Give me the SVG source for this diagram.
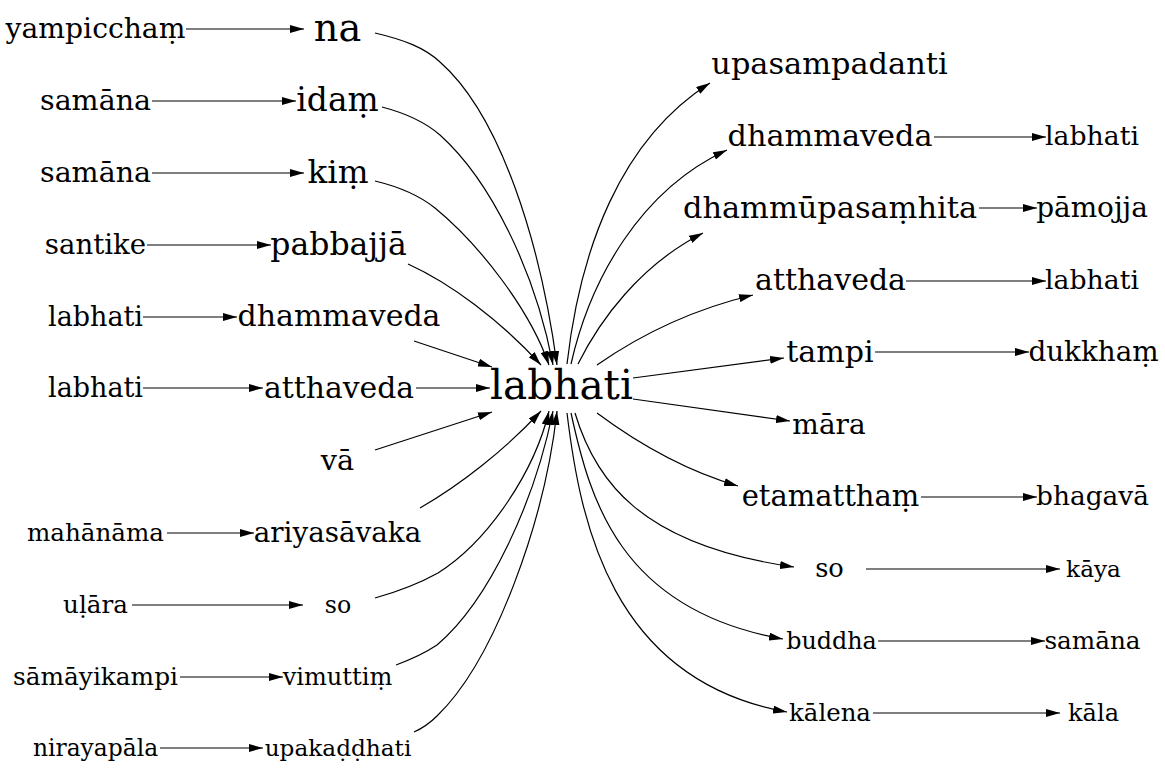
<svg xmlns="http://www.w3.org/2000/svg" width="1165" height="779" viewBox="0 0 1165 779">
<defs>
<marker id="ah" markerWidth="14" markerHeight="8" refX="14" refY="4" orient="auto" markerUnits="userSpaceOnUse"><path d="M0,0 L14,4 L0,8 z" fill="#000"/></marker>
<style>
text{font-family:"DejaVu Serif","Liberation Serif",serif;fill:#000;text-anchor:middle}
.e path{fill:none;stroke:#000;stroke-width:1.2;marker-end:url(#ah)}
</style>
</defs>
<rect width="1165" height="779" fill="#fff"/>
<g class="e" id="edges">
<path d="M186,29 L304,29"/>
<path d="M152,101 L296,101"/>
<path d="M152,173 L304,173"/>
<path d="M147,245 L271,245"/>
<path d="M143,317 L237,317"/>
<path d="M143,388 L263,388"/>
<path d="M167,533 L254,533"/>
<path d="M132,605 L303,605"/>
<path d="M180,677 L283,677"/>
<path d="M160,748 L263,748"/>
<path d="M375,33 C405,40 425,48 440,62 C500,115 540,240 557,365"/>
<path d="M382,107 C405,113 425,122 440,135 C490,180 535,270 553,365"/>
<path d="M375,181 C400,187 420,196 435,208 C480,245 530,310 549,365"/>
<path d="M408,264 C450,283 500,320 541,365"/>
<path d="M414,341 L492,367"/>
<path d="M416,388 L490,388"/>
<path d="M375,450 L492,412"/>
<path d="M420,508 C460,485 505,450 541,411"/>
<path d="M375,598 C400,591 420,583 438,573 C490,540 535,470 549,411"/>
<path d="M396,665 C412,659 425,653 437,645 C490,600 535,500 553,411"/>
<path d="M414,732 C423,728 430,723 437,716 C495,660 545,520 557,411"/>
<path d="M567,364 C580,250 620,140 710,83"/>
<path d="M571,364 C590,280 640,190 727,150"/>
<path d="M578,364 C600,320 640,265 703,233"/>
<path d="M597,365 C640,335 690,310 753,295"/>
<path d="M633,378 L784,358"/>
<path d="M633,399 L790,421"/>
<path d="M597,413 C640,445 690,472 738,486"/>
<path d="M575,413 C595,480 640,545 794,567"/>
<path d="M571,413 C590,500 620,610 783,639"/>
<path d="M567,413 C580,520 610,680 787,712"/>
<path d="M934,137 L1046,137"/>
<path d="M979,208 L1037,208"/>
<path d="M906,281 L1046,281"/>
<path d="M875,352 L1029,352"/>
<path d="M921,497 L1037,497"/>
<path d="M866,569 L1060,569"/>
<path d="M878,641 L1045,641"/>
<path d="M873,713 L1060,713"/>
</g>
<g id="n_center"><text x="561.5" y="399" font-size="40.6">labhati</text></g>
<g id="l1"><text x="95.5" y="37.5" font-size="28.2">yampicchaṃ</text></g>
<g id="l2"><text x="95.5" y="109.5" font-size="28.5">samāna</text></g>
<g id="l3"><text x="95.5" y="181.5" font-size="28.5">samāna</text></g>
<g id="l4"><text x="95.5" y="253.5" font-size="27.6">santike</text></g>
<g id="l5"><text x="95.5" y="325.5" font-size="27">labhati</text></g>
<g id="l6"><text x="95.5" y="396.5" font-size="27">labhati</text></g>
<g id="l7"><text x="95.5" y="541" font-size="24.6">mahānāma</text></g>
<g id="l8"><text x="95.5" y="613" font-size="24.6">uḷāra</text></g>
<g id="l9"><text x="95.5" y="685" font-size="24.8">sāmāyikampi</text></g>
<g id="l10"><text x="95.5" y="756" font-size="23.4">nirayapāla</text></g>
<g id="m1"><text x="337.5" y="40.5" font-size="38.3">na</text></g>
<g id="m2"><text x="337.5" y="111" font-size="32.9">idaṃ</text></g>
<g id="m3"><text x="338" y="183" font-size="32.5">kiṃ</text></g>
<g id="m4"><text x="338.5" y="254.5" font-size="31.5">pabbajjā</text></g>
<g id="m5"><text x="339" y="326" font-size="30">dhammaveda</text></g>
<g id="m6"><text x="339" y="397.5" font-size="29.8">atthaveda</text></g>
<g id="m7"><text x="337.5" y="469.5" font-size="28.7">vā</text></g>
<g id="m8"><text x="337.5" y="541.5" font-size="27.8">ariyasāvaka</text></g>
<g id="m9"><text x="338" y="613" font-size="23.7">so</text></g>
<g id="m10"><text x="337.5" y="685" font-size="24.1">vimuttiṃ</text></g>
<g id="m11"><text x="338" y="756" font-size="23.2">upakaḍḍhati</text></g>
<g id="r1"><text x="829.5" y="73.5" font-size="30.4">upasampadanti</text></g>
<g id="r2"><text x="830" y="146" font-size="30.3">dhammaveda</text></g>
<g id="r3"><text x="830" y="217.5" font-size="30.4">dhammūpasaṃhita</text></g>
<g id="r4"><text x="830.5" y="290" font-size="30">atthaveda</text></g>
<g id="r5"><text x="830" y="361.5" font-size="30.1">tampi</text></g>
<g id="r6"><text x="829" y="433.5" font-size="28">māra</text></g>
<g id="r7"><text x="830.5" y="505.5" font-size="29">etamatthaṃ</text></g>
<g id="r8"><text x="829.5" y="577" font-size="25.7">so</text></g>
<g id="r9"><text x="831.5" y="648.5" font-size="23.8">buddha</text></g>
<g id="r10"><text x="830" y="720.5" font-size="24.4">kālena</text></g>
<g id="f1"><text x="1092" y="145" font-size="26.7">labhati</text></g>
<g id="f2"><text x="1092" y="216.5" font-size="27.9">pāmojja</text></g>
<g id="f3"><text x="1092" y="289" font-size="26.7">labhati</text></g>
<g id="f4"><text x="1093.5" y="360.5" font-size="27.8">dukkhaṃ</text></g>
<g id="f5"><text x="1092.5" y="505" font-size="26.4">bhagavā</text></g>
<g id="f6"><text x="1093.5" y="577" font-size="23.2">kāya</text></g>
<g id="f7"><text x="1092.5" y="648.5" font-size="24.7">samāna</text></g>
<g id="f8"><text x="1093.5" y="720.5" font-size="24.1">kāla</text></g>
</svg>
